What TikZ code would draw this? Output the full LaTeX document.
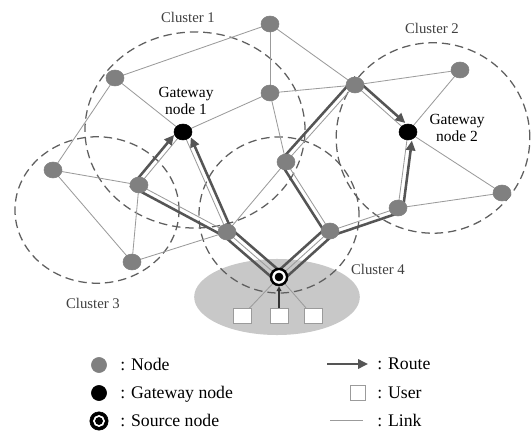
\documentclass[tikz,border=0pt]{standalone}
\usepackage{fontspec}
\setmainfont{Liberation Serif}
\usetikzlibrary{arrows.meta, calc}

\definecolor{nodegray}{RGB}{128,128,128}
\definecolor{routegray}{RGB}{85,85,85}
\definecolor{linkgray}{RGB}{155,155,155}
\definecolor{clustergray}{RGB}{95,95,95}
\definecolor{areagray}{RGB}{200,200,200}

\tikzset{
    link/.style={draw=linkgray, line width=0.6pt},
    route/.style={draw=routegray, line width=1.8pt, -{Triangle[length=7pt,width=6.5pt]}},
    userarrow/.style={draw=black!80, line width=0.8pt, -{Triangle[length=3.5pt,width=3.5pt]}, shorten >=6.6pt},
    cluster/.style={draw=clustergray, line width=0.9pt, dash pattern=on 6pt off 3.5pt},
    user/.style={draw=linkgray, fill=white, line width=0.5pt, minimum width=0.45cm, minimum height=0.375cm, inner sep=0pt},
    clusterlabel/.style={font=\fontsize{10.5}{12}\selectfont, text=black!75},
    gwlabel/.style={font=\fontsize{11}{11.9}\selectfont, align=center, inner sep=0pt},
    legendtext/.style={font=\fontsize{12.6}{14}\selectfont, anchor=base west, inner sep=0pt},
}

\begin{document}
\begin{tikzpicture}[x=0.025cm, y=-0.025cm]
        \useasboundingbox (0, 0) rectangle (531, 432);

        \coordinate (n1) at (115, 78);
        \coordinate (n2) at (270, 24);
        \coordinate (n3) at (270, 93);
        \coordinate (gw1) at (183, 132);
        \coordinate (n4) at (53, 170);
        \coordinate (n5) at (139, 185);
        \coordinate (n6) at (227, 232);
        \coordinate (n7) at (132, 262);
        \coordinate (n8) at (355, 85);
        \coordinate (n9) at (460, 70);
        \coordinate (gw2) at (408, 132);
        \coordinate (n10) at (286, 162);
        \coordinate (n11) at (502, 193);
        \coordinate (n12) at (398, 208);
        \coordinate (n13) at (330, 231);
        \coordinate (src) at (279, 277);

        % users area
        \fill[areagray] (277, 297) ellipse [x radius=2.07cm, y radius=0.95cm];
        \node[user] (u1) at (242, 316) {};
        \node[user] (u2) at (279, 316) {};
        \node[user] (u3) at (313, 316) {};

        % clusters
        \draw[cluster] (195, 130) ellipse [x radius=2.75cm, y radius=2.45cm];
        \draw[cluster] (433, 138) ellipse [x radius=2.42cm, y radius=2.38cm];
        \draw[cluster] (97, 210) ellipse [x radius=2.05cm, y radius=1.83cm];
        \draw[cluster] (279, 215) ellipse [x radius=2cm, y radius=1.95cm];

        \node[clusterlabel] (c1) at (188, 17) {Cluster 1};
        \node[clusterlabel] (c2) at (432, 28) {Cluster 2};
        \node[clusterlabel] (c3) at (93, 303) {Cluster 3};
        \node[clusterlabel] (c4) at (378, 269) {Cluster 4};

        % links
        \draw[link] (n1) -- (n2);
        \draw[link] (n1) -- (gw1);
        \draw[link] (n1) -- (n4);
        \draw[link] (n2) -- (n3);
        \draw[link] (n2) -- (n8);
        \draw[link] (n3) -- (gw1);
        \draw[link] (n3) -- (n8);
        \draw[link] (n3) -- (n10);
        \draw[link] (n4) -- (n5);
        \draw[link] (n4) -- (n7);
        \draw[link] (n5) -- (n7);
        \draw[link] (n5) -- (gw1);
        \draw[link] (n5) -- (n6);
        \draw[link] (n6) -- (n7);
        \draw[link] (n6) -- (gw1);
        \draw[link] (n6) -- (n10);
        \draw[link] (n6) -- (src);
        \draw[link] (n8) -- (n9);
        \draw[link] (n8) -- (gw2);
        \draw[link] (n8) -- (n10);
        \draw[link] (n9) -- (gw2);
        \draw[link] (gw2) -- (n11);
        \draw[link] (gw2) -- (n12);
        \draw[link] (n11) -- (n12);
        \draw[link] (n12) -- (n13);
        \draw[link] (n10) -- (n13);
        \draw[link] (n13) -- (src);
        \draw[link] (src) -- (u1);
        \draw[link] (src) -- (u3);
        \draw[userarrow] (u2) -- (src);

        % routes
        \draw[route] ($(src)+(-3.3, 3.8)$) -- ($(n6)+(-2.9, 4.2)$) -- ($(n5)+(-7.8, 1.5)$) -- ($(gw1)+(-8.9, 3)$);
        \draw[route] ($(src)+(3.3, -3.8)$) -- ($(n6)+(4.1, -3.1)$) -- ($(gw1)+(7.8, 5.3)$);
        \draw[route] ($(src)+(-3.4, -3.7)$) -- ($(n13)+(-6.5, -0.9)$) -- ($(n10)+(-6.3, -0.5)$) -- ($(n8)+(-0.4, -7)$) -- ($(gw2)+(-2.7, -9)$);
        \draw[route] ($(src)+(3.4, 3.7)$) -- ($(n13)+(2.6, 4.4)$) -- ($(n12)+(4.6, 3.7)$) -- ($(gw2)+(3.9, 8.6)$);

        \filldraw[nodegray] (n1) ellipse [x radius=0.225cm, y radius=0.2cm];
        \filldraw[nodegray] (n2) ellipse [x radius=0.225cm, y radius=0.2cm];
        \filldraw[nodegray] (n3) ellipse [x radius=0.225cm, y radius=0.2cm];
        \filldraw[nodegray] (n4) ellipse [x radius=0.225cm, y radius=0.2cm];
        \filldraw[nodegray] (n5) ellipse [x radius=0.225cm, y radius=0.2cm];
        \filldraw[nodegray] (n6) ellipse [x radius=0.225cm, y radius=0.2cm];
        \filldraw[nodegray] (n7) ellipse [x radius=0.225cm, y radius=0.2cm];
        \filldraw[nodegray] (n8) ellipse [x radius=0.225cm, y radius=0.2cm];
        \filldraw[nodegray] (n9) ellipse [x radius=0.225cm, y radius=0.2cm];
        \filldraw[nodegray] (n10) ellipse [x radius=0.225cm, y radius=0.2cm];
        \filldraw[nodegray] (n11) ellipse [x radius=0.225cm, y radius=0.2cm];
        \filldraw[nodegray] (n12) ellipse [x radius=0.225cm, y radius=0.2cm];
        \filldraw[nodegray] (n13) ellipse [x radius=0.225cm, y radius=0.2cm];
        \filldraw[color=black] (gw1) ellipse [x radius=0.225cm, y radius=0.2cm];
        \filldraw[color=black] (gw2) ellipse [x radius=0.225cm, y radius=0.2cm];
        \filldraw[color=black] (src) circle (0.225cm);
        \filldraw[color=white] (src) circle (0.16cm);
        \filldraw[color=black] (src) circle (0.1cm);

        \node[gwlabel] (gw1text) at (186, 101) {Gateway\\node 1};
        \node[gwlabel] (gw2text) at (457, 128) {Gateway\\node 2};

        % legend
        \coordinate (lnode) at (99, 365);
        \coordinate (lgw) at (99, 393);
        \coordinate (lsrc) at (99, 421);
        \filldraw[nodegray] (lnode) circle (0.19cm);
        \filldraw[color=black] (lgw) circle (0.19cm);
        \filldraw[color=black] (lsrc) circle (0.23cm);
        \filldraw[color=white] (lsrc) circle (0.14cm);
        \filldraw[color=black] (lsrc) circle (0.09cm);
        \node[legendtext] (tnode) at (120, 370.5) {: Node};
        \node[legendtext] (tgw) at (120, 398.5) {: Gateway node};
        \node[legendtext] (tsrc) at (120, 426.5) {: Source node};

        \coordinate (lroutea) at (327, 364);
        \coordinate (lrouteb) at (368, 364);
        \draw[route] (lroutea) -- (lrouteb);
        \node[legendtext] (troute) at (377, 369) {: Route};
        \node[user, minimum width=0.38cm, minimum height=0.38cm] (luser) at (358, 393) {};
        \node[legendtext] (tuser) at (377, 398.5) {: User};
        \coordinate (llinka) at (330, 420);
        \coordinate (llinkb) at (363, 420);
        \draw[link] (llinka) -- (llinkb);
        \node[legendtext] (tlink) at (377, 426.5) {: Link};
    \end{tikzpicture}
\end{document}
